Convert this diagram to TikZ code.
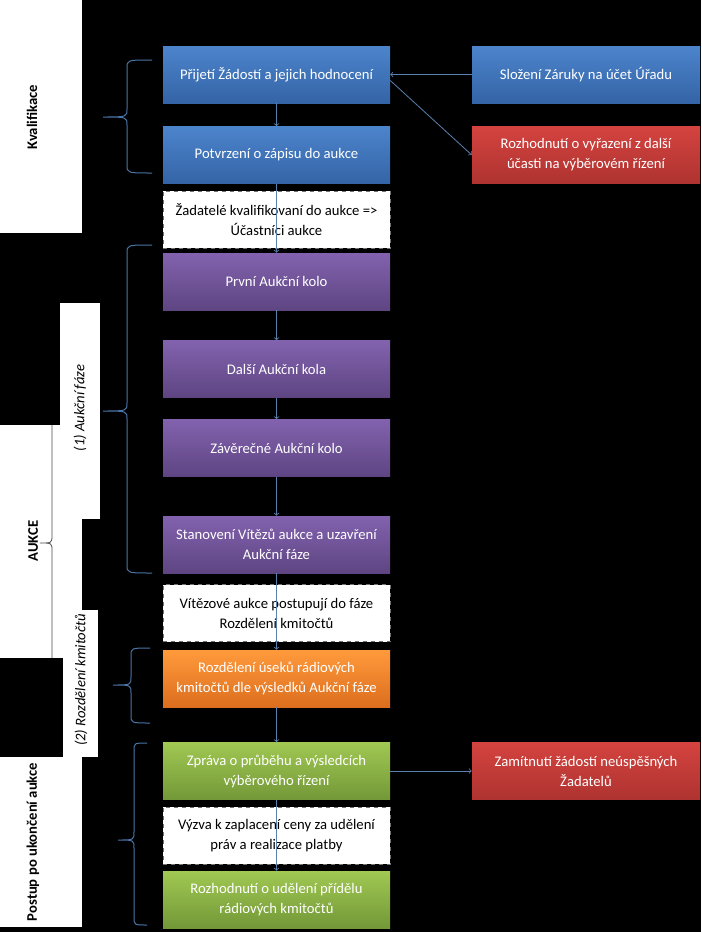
\documentclass[tikz,border=0pt]{standalone}
\usepackage{fontspec}
\setmainfont{Carlito}
\usetikzlibrary{positioning}

\definecolor{blueTop}{HTML}{4C84CC}
\definecolor{blueBot}{HTML}{3464A6}
\definecolor{purpTop}{HTML}{8262AE}
\definecolor{purpBot}{HTML}{5E4582}
\definecolor{oranTop}{HTML}{FF9A3C}
\definecolor{oranBot}{HTML}{DC6E1E}
\definecolor{greenTop}{HTML}{A0C852}
\definecolor{greenBot}{HTML}{739838}
\definecolor{redTop}{HTML}{D4433F}
\definecolor{redBot}{HTML}{AE3330}
\definecolor{braceBlue}{HTML}{4A76A8}
\definecolor{arrowBlue}{HTML}{5A80AE}

\tikzset{
  box/.style={rectangle, minimum width=170.25pt, minimum height=42.75pt,
    align=center, text=white, inner sep=2pt, font=\fontsize{11}{15}\selectfont},
  bluebox/.style={box, top color=blueTop, bottom color=blueBot},
  purplebox/.style={box, top color=purpTop, bottom color=purpBot},
  orangebox/.style={box, top color=oranTop, bottom color=oranBot},
  greenbox/.style={box, top color=greenTop, bottom color=greenBot},
  redbox/.style={box, minimum width=171pt, top color=redTop, bottom color=redBot},
  note/.style={box, fill=white, text=black, draw=black!55, dashed},
  phase/.style={rotate=90, font=\bfseries\fontsize{11}{13}\selectfont},
  subphase/.style={rotate=90, font=\itshape\fontsize{11}{13}\selectfont},
  brace line/.style={draw=braceBlue, line width=0.75pt},
  aukce brace/.style={draw=black!70, line width=0.6pt},
  flow/.style={->, >=to, draw=arrowBlue, line width=0.6pt}
}

% spine x, tip x, arm x, top, middle, bottom
\newcommand{\curlybrace}[7][brace line]{%
  \draw[#1] (#4,#5) .. controls (#2,#5) .. (#2,{#5+8}) -- (#2,{#6-8})
    .. controls (#2,#6) .. (#3,#6) .. controls (#2,#6) .. (#2,{#6+8})
    -- (#2,{#7-8}) .. controls (#2,#7) .. (#4,#7);}

\begin{document}
\begin{tikzpicture}[x=0.75pt, y=-0.75pt]
  \useasboundingbox (0,0) rectangle (701,932);
  \fill[black] (0,0) rectangle (701,932);

  % left panels
  \fill[white] (0,0) rectangle (82,233);
  \fill[white] (0,425) rectangle (82,658);
  \fill[white] (60,303) rectangle (100,519);
  \fill[white] (63,610) rectangle (98,757);
  \fill[white] (0,757) rectangle (82,927);

  \node[phase] (kval) at (32,117) {Kvalifikace};
  \node[phase] (aukce) at (33,541) {AUKCE};
  \node[phase] (postup) at (33,842) {Postup po ukončení aukce};
  \node[subphase] (faze1) at (80,408) {(1) Aukční fáze};
  \node[subphase] (faze2) at (81,680) {(2) Rozdělení kmitočtů};

  % braces
  \curlybrace[aukce brace]{52}{40}{52}{425}{543}{658}
  \curlybrace{127}{103}{152}{60}{117}{173}
  \curlybrace{127}{103}{152}{245}{411}{573}
  \curlybrace{131}{113}{150}{648}{685}{723}
  \curlybrace{134}{118}{147}{743}{840}{925}

  % main column
  \node[bluebox] (prijeti) at (276.5,74.5) {Přijetí Žádostí a jejich hodnocení};
  \node[bluebox] (potvrzeni) at (276.5,155) {Potvrzení o zápisu do aukce};
  \node[note] (zadatele) at (276.5,219.5) {Žadatelé kvalifikovaní do aukce =>\\Účastníci aukce};
  \node[purplebox] (prvni) at (276.5,281.5) {První Aukční kolo};
  \node[purplebox] (dalsi) at (276.5,369) {Další Aukční kola};
  \node[purplebox] (zaverecne) at (276.5,448) {Závěrečné Aukční kolo};
  \node[purplebox] (stanoveni) at (276.5,544.5) {Stanovení Vítězů aukce a uzavření\\Aukční fáze};
  \node[note] (vitezove) at (276.5,613) {Vítězové aukce postupují do fáze\\Rozdělení kmitočtů};
  \node[orangebox] (rozdeleni) at (276.5,678.5) {Rozdělení úseků rádiových\\kmitočtů dle výsledků Aukční fáze};
  \node[greenbox] (zprava) at (276.5,771) {Zpráva o průběhu a výsledcích\\výběrového řízení};
  \node[note] (vyzva) at (276.5,835.5) {Výzva k zaplacení ceny za udělení\\práv a realizace platby};
  \node[greenbox] (prideleni) at (276.5,899.5) {Rozhodnutí o udělení přídělu\\rádiových kmitočtů};

  % right column
  \node[bluebox, minimum width=171pt] (slozeni) at (586,74.5) {Složení Záruky na účet Úřadu};
  \node[redbox] (vyrazeni) at (586,155) {Rozhodnutí o vyřazení z další\\účasti na výběrovém řízení};
  \node[redbox] (zamitnuti) at (586,771) {Zamítnutí žádostí neúspěšných\\Žadatelů};

  % connectors
  \draw[flow] (prijeti) -- (potvrzeni);
  \draw[flow] (potvrzeni) -- (prvni);
  \draw[flow] (prvni) -- (dalsi);
  \draw[flow] (dalsi) -- (zaverecne);
  \draw[flow] (zaverecne) -- (stanoveni);
  \draw[flow] (stanoveni) -- (rozdeleni);
  \draw[flow] (rozdeleni) -- (zprava);
  \draw[flow] (zprava) -- (prideleni);
  \draw[flow] (slozeni) -- (prijeti);
  \draw[flow] ([yshift=-4.5pt]prijeti.east) -- (vyrazeni.west);
  \draw[flow] (zprava) -- (zamitnuti);
\end{tikzpicture}
\end{document}
